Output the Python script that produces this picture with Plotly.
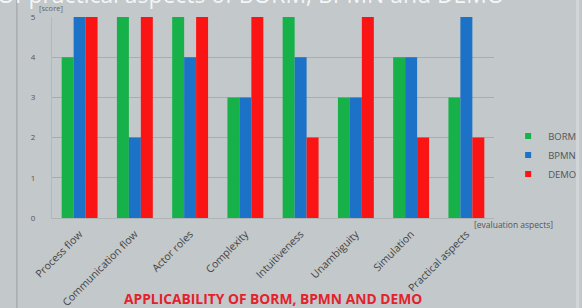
import plotly.graph_objects as go

categories = ["Process flow", "Communication flow", "Actor roles", "Complexity",
              "Intuitiveness", "Unambiguity", "Simulation", "Practical aspects"]
borm = [4, 5, 5, 3, 5, 3, 4, 3]
bpmn = [5, 2, 4, 3, 4, 3, 4, 5]
demo = [5, 5, 5, 5, 2, 5, 2, 2]
y_ticks = [0, 1, 2, 3, 4, 5]

series = [("BORM", borm, "#17b14a"), ("BPMN", bpmn, "#1b72c6"), ("DEMO", demo, "#fb1414")]

fig = go.Figure()
for name, vals, col in series:
    fig.add_trace(go.Bar(x=categories, y=vals, name=name, showlegend=False,
                         marker=dict(color=col, line=dict(width=0))))
# small square legend keys
for name, vals, col in series:
    fig.add_trace(go.Scatter(x=[None], y=[None], mode="markers", name=name,
                             marker=dict(symbol="square", size=6, color=col)))

bg = "#c3c8ca"
fig.update_layout(
    width=582, height=308,
    margin=dict(l=52, r=88, t=17, b=90, autoexpand=False),
    paper_bgcolor=bg, plot_bgcolor=bg,
    barmode="group", bargap=0.35, bargroupgap=0,
    showlegend=True,
    legend=dict(x=1.032, y=0.313, xanchor="left", yanchor="middle",
                font=dict(family="Open Sans", size=9.5, color="#555"),
                bgcolor="rgba(0,0,0,0)", itemwidth=30, tracegroupgap=0),
    font=dict(family="Open Sans", color="#555"),
    xaxis=dict(tickangle=-45, tickfont=dict(size=10.5, color="#444"), automargin=False,
               showline=True, linecolor="#aeb3b5", linewidth=1, ticks="", showgrid=False,
               ticklabelstandoff=5),
    yaxis=dict(range=[0, 5], tickvals=y_ticks, tickfont=dict(size=8, color="#555"),
               automargin=False,
               showgrid=True, gridcolor="#a8adaf", gridwidth=1, zeroline=False,
               showline=True, linecolor="#b3b8ba", ticks="", ticklabelstandoff=14),
)

fig.add_annotation(text="Of practical aspects of BORM, BPMN and DEMO", xref="paper", yref="paper",
                   x=1.03, y=1, yshift=5, yanchor="bottom", xanchor="right", showarrow=False,
                   font=dict(family="Open Sans", size=22.9, color="#f4f6f7"))
fig.add_annotation(text="[score]", xref="paper", yref="paper", x=0, y=1, yshift=9,
                   xanchor="left", yanchor="middle", xshift=-15, showarrow=False,
                   font=dict(size=7.5, color="#666"))
fig.add_annotation(text="[evaluation aspects]", xref="paper", yref="paper", x=1, y=0, yshift=-6,
                   xanchor="left", yanchor="middle", xshift=-22, showarrow=False,
                   font=dict(size=8.5, color="#555"))
fig.add_annotation(text="<b>APPLICABILITY OF BORM, BPMN AND DEMO</b>", xref="paper", yref="paper",
                   x=0.5, y=0, yshift=-80, xanchor="center", yanchor="middle", showarrow=False,
                   font=dict(family="Open Sans", size=13.8, color="#e3222c"))

# frame lines of the slide
fig.add_shape(type="line", xref="paper", yref="paper", x0=-0.0795, x1=-0.0795, y0=-0.5, y1=1.2,
              line=dict(color="#a9aeb0", width=1.5))
fig.add_shape(type="line", xref="paper", yref="paper", x0=1.189, x1=1.189, y0=-0.5, y1=1.2,
              line=dict(color="#d2d6d8", width=3))

fig.write_html("out.html", config={"displayModeBar": False},
               post_script="document.body.style.margin='0';")
